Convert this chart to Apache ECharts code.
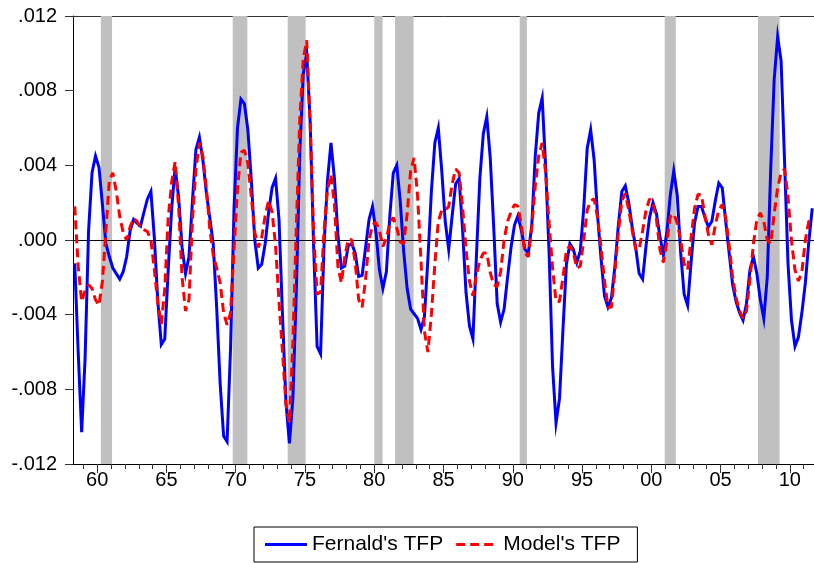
<!DOCTYPE html>
<html><head><meta charset="utf-8">
<script src="https://cdn.jsdelivr.net/npm/echarts@6/dist/echarts.min.js"></script>
<style>html,body{margin:0;padding:0;background:#fff}#c{width:814px;height:563px}</style>
</head><body><div id="c"></div>
<script>
// Quarterly observations, first one = 1958Q2 (values in units of 0.001)
const firstQuarterStart = 1958.25;
const fernaldTFP = [
 -1.25,-6.0,-10.3,-6.3,0.5,3.6,4.5,3.9,1.9,-0.2,
 -0.9,-1.5,-1.8,-2.1,-1.7,-0.9,0.5,1.1,0.9,0.75,
 1.5,2.2,2.6,0.1,-3.3,-5.6,-5.3,-1.6,1.7,3.9,
 2.3,-0.4,-1.8,-0.9,2.1,4.85,5.5,4.3,2.55,1.2,
 -0.2,-3.65,-7.7,-10.5,-10.8,-5.8,1.6,6.0,7.55,7.3,
 5.9,3.2,0.0,-1.5,-1.3,-0.2,1.5,2.8,3.3,1.1,
 -4.0,-8.7,-10.9,-8.5,-2.7,4.7,8.9,10.0,6.3,-0.4,
 -5.7,-6.1,-0.3,3.2,5.2,3.3,0.3,-1.5,-1.4,-0.3,
 -0.2,-0.7,-1.96,-1.9,-0.4,1.1,1.8,0.4,-1.6,-2.6,
 -1.7,1.3,3.6,4.0,2.1,-0.6,-2.6,-3.7,-3.95,-4.2,
 -4.8,-4.1,-1.0,2.6,5.2,6.0,3.7,1.0,-0.5,1.3,
 3.0,3.3,0.6,-2.8,-4.6,-5.3,-0.9,3.3,5.7,6.6,
 4.4,0.7,-3.4,-4.4,-3.7,-2.0,-0.4,0.8,1.3,0.5,
 -0.5,-0.7,0.8,4.5,6.8,7.6,3.9,-0.7,-6.8,-9.8,
 -8.5,-4.8,-1.3,-0.2,-0.5,-1.2,-0.6,1.7,4.9,5.9,
 4.3,1.3,-1.0,-3.0,-3.6,-3.1,-1.4,0.8,2.6,2.9,
 2.0,0.7,-0.4,-1.8,-2.1,-0.3,1.2,2.0,1.4,0.2,
 -0.8,0.4,2.4,3.7,2.4,-0.7,-2.9,-3.5,-1.2,0.9,
 1.8,1.8,1.2,0.7,1.0,2.1,3.05,2.8,1.0,-0.7,
 -2.4,-3.3,-3.9,-4.3,-3.4,-1.6,-0.9,-1.8,-3.2,-4.2,
 -2.0,3.8,8.6,10.9,9.6,4.2,-1.3,-4.3,-5.7,-5.2,
 -3.9,-2.3,-0.1,1.7
];
const modelTFP = [
 1.8,-1.4,-3.3,-2.7,-2.4,-2.6,-3.2,-3.5,-2.2,0.5,
 3.2,3.6,2.6,1.25,0.4,0.0,0.7,1.16,1.0,0.65,
 0.55,0.45,0.0,-1.6,-3.4,-4.5,-2.6,1.2,3.1,4.2,
 1.8,-2.0,-3.8,-3.2,1.1,3.8,5.2,4.5,2.8,0.6,
 -0.8,-1.5,-2.3,-3.9,-4.55,-3.9,-0.5,2.7,4.7,4.8,
 4.1,2.3,0.4,-0.4,0.15,1.3,2.1,1.5,-0.3,-3.3,
 -6.0,-8.8,-9.8,-5.5,0.7,6.5,9.7,10.7,6.2,0.3,
 -2.9,-2.8,0.5,2.7,3.5,1.9,-1.4,-2.3,-0.9,0.05,
 0.0,-1.2,-3.2,-3.6,-2.1,0.0,0.8,0.95,0.5,-0.35,
 0.1,0.9,1.2,0.65,-0.1,-0.2,1.4,3.7,4.4,2.4,
 -1.1,-4.9,-6.0,-4.0,-1.3,1.0,1.6,1.6,1.8,3.0,
 3.8,3.6,1.8,-0.5,-2.2,-3.0,-1.9,-1.1,-0.7,-0.7,
 -1.75,-2.4,-2.5,-1.7,0.0,1.0,1.5,1.9,1.8,0.8,
 -0.7,-0.9,0.7,2.9,4.5,5.2,3.6,0.9,-1.5,-3.3,
 -3.3,-2.0,-0.55,-0.3,-0.7,-1.5,-1.4,0.0,1.6,2.1,
 2.2,1.2,-0.4,-2.2,-3.6,-3.6,-1.7,0.4,2.1,2.5,
 1.6,0.5,-0.5,-0.5,0.5,1.6,2.2,2.0,1.1,-0.5,
 -1.2,-0.1,1.25,1.4,0.9,0.0,-1.3,-1.6,0.1,1.7,
 2.45,2.4,1.3,0.3,-0.25,0.8,1.6,1.9,1.2,-0.3,
 -2.0,-3.1,-3.8,-4.2,-3.8,-2.1,-0.2,1.1,1.45,1.0,
 0.0,-0.2,1.4,2.8,3.6,3.8,2.3,-0.05,-1.6,-2.2,
 -1.7,0.0,1.0,1.2
];
const recessionStart = [1960.26, 1969.78, 1973.75, 1980.0, 1981.5, 1990.5, 2000.97, 2007.71];
const recessionEnd   = [1961.07, 1970.84, 1975.05, 1980.6, 1982.84, 1991.02, 2001.77, 2009.27];
const xLabelYears = [1960,1965,1970,1975,1980,1985,1990,1995,2000,2005,2010];
const xMinorYears = [1959,1960,1961,1962,1963,1964,1965,1966,1967,1968,1969,1970,1971,1972,1973,1974,1975,1976,1977,1978,1979,1980,1981,1982,1983,1984,1985,1986,1987,1988,1989,1990,1991,1992,1993,1994,1995,1996,1997,1998,1999,2000,2001,2002,2003,2004,2005,2006,2007,2008,2009,2010,2011];
const seriesNames = ["Fernald's TFP", "Model's TFP"];

const toPairs = arr => arr.map((v, i) => [firstQuarterStart + (i + 0.5) * 0.25, v * 0.001]);
const fmtY = v => { const r = Math.round(v * 1000); return (r < 0 ? '-' : '') + '.' + String(Math.abs(r)).padStart(3, '0'); };
const fmtX = v => String(Math.round(v) % 100).padStart(2, '0');
const FONT = '"Liberation Sans", Arial, sans-serif';
const SOLID_ICON = 'path://M0,0h42v3H0z';
const DASH_ICON = 'path://M0,0h9v3H0z M14,0h9v3h-9z M28,0h9v3h-9z M42,0h0.01v3h-0.01z';

const chart = echarts.init(document.getElementById('c'), null, {renderer: 'canvas'});
chart.setOption({
  animation: false,
  backgroundColor: '#fff',
  grid: {left: 73, top: 16, right: -1, height: 448, show: false},
  xAxis: [{
    type: 'value', min: 1958.25, max: 2011.75, position: 'bottom',
    axisLine: {show: true, onZero: false, lineStyle: {color: '#000', width: 1}},
    axisTick: {show: true, length: 9, inside: false, customValues: xLabelYears, lineStyle: {color: '#333'}},
    axisLabel: {show: true, customValues: xLabelYears, formatter: fmtX, margin: 6, fontSize: 20, fontFamily: FONT, color: '#000'},
    splitLine: {show: false}
  }, {
    type: 'value', min: 1958.25, max: 2011.75, position: 'bottom',
    axisLine: {show: false, onZero: false},
    axisTick: {show: true, length: 5, customValues: xMinorYears, lineStyle: {color: '#333'}},
    axisLabel: {show: false},
    splitLine: {show: false}
  }, {
    type: 'value', min: 1958.25, max: 2011.75, position: 'top',
    axisLine: {show: true, onZero: false, lineStyle: {color: '#333', width: 1}},
    axisTick: {show: false},
    axisLabel: {show: false},
    splitLine: {show: false}
  }],
  yAxis: {
    type: 'value', min: -0.012, max: 0.012, interval: 0.004,
    axisLine: {show: true, onZero: false, lineStyle: {color: '#000', width: 1}},
    axisTick: {show: true, length: 8, lineStyle: {color: '#333'}},
    axisLabel: {formatter: fmtY, margin: 16, fontSize: 20, fontFamily: FONT, color: '#000'},
    splitLine: {show: false}
  },
  legend: {
    left: 254, top: 527, orient: 'horizontal',
    data: [{name: seriesNames[0], icon: SOLID_ICON}, {name: seriesNames[1], icon: DASH_ICON}],
    itemWidth: 42, itemHeight: 3, itemGap: 13,
    padding: [7, 17, 7, 11],
    borderColor: '#000', borderWidth: 1,
    textStyle: {fontSize: 21, fontFamily: FONT, color: '#000'}
  },
  series: [{
    name: seriesNames[0], type: 'line', xAxisIndex: 0, symbol: 'none', showSymbol: false,
    data: toPairs(fernaldTFP), z: 3,
    lineStyle: {color: '#0000ff', width: 3, join: 'miter'}, itemStyle: {color: '#0000ff'},
    markArea: {
      silent: true, z: 1,
      itemStyle: {color: '#c0c0c0', opacity: 1},
      label: {show: false},
      data: recessionStart.map((s, k) => [{xAxis: s}, {xAxis: recessionEnd[k]}])
    },
    markLine: {
      silent: true, symbol: 'none', z: 2,
      lineStyle: {color: '#000', width: 1, type: 'solid'},
      label: {show: false},
      data: [{yAxis: 0}]
    }
  }, {
    name: seriesNames[1], type: 'line', xAxisIndex: 0, symbol: 'none', showSymbol: false,
    data: toPairs(modelTFP), z: 4,
    lineStyle: {color: '#ff0000', width: 3, type: [9, 5]}, itemStyle: {color: '#ff0000'}
  }]
});
</script></body></html>
